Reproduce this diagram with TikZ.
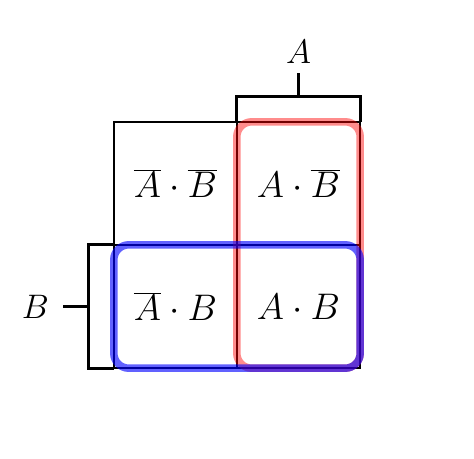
\RequirePackage{fix-cm}
\documentclass[tikz,border=0pt]{standalone}
\usepackage{tikz}

\begin{document}
\begin{tikzpicture}[x=1pt,y=-1pt,
    feld/.style={minimum width=123pt,minimum height=123pt,inner sep=0pt,
      font=\fontsize{37}{44}\selectfont},
    klammer/.style={line width=3pt},
    gruppe/.style={line width=7.5pt,rounded corners=15pt}]
  \useasboundingbox (0,0) rectangle (474,458);

  %Felder
  \node[feld] (nAnB) at (175.5,183.5) {$\overline{A}\cdot\overline{B}$};
  \node[feld] (AnB)  at (298.5,183.5) {$A\cdot\overline{B}$};
  \node[feld] (nAB)  at (175.5,306.5) {$\overline{A}\cdot B$};
  \node[feld] (AB)   at (298.5,306.5) {$A\cdot B$};

  %Gitter
  \draw[line width=1.6pt] (nAnB.north west) rectangle (AB.south east);
  \draw[line width=1.6pt] (AnB.north west) -- (AB.south west);
  \draw[line width=1.6pt] (nAB.north west) -- (AB.north east);

  %Gruppen
  \draw[gruppe, draw=red, opacity=0.45] (AnB.north west) rectangle (AB.south east);
  \draw[gruppe, draw=blue, opacity=0.62] (nAB.north west) rectangle (AB.south east);

  %Klammer A
  \draw[klammer] (AnB.north west) -- ++(0,-25) coordinate (ka) -| (AnB.north east);
  \draw[klammer] (ka -| AnB.north) -- ++(0,-24) node[above=4pt, font=\fontsize{34}{40}\selectfont] (lA) {$A$};

  %Klammer B
  \draw[klammer] (nAB.north west) -- ++(-25,0) coordinate (kb) |- (nAB.south west);
  \draw[klammer] (kb |- nAB.west) -- ++(-26,0) node[left=9pt, font=\fontsize{34}{40}\selectfont] (lB) {$B$};
\end{tikzpicture}
\end{document}
